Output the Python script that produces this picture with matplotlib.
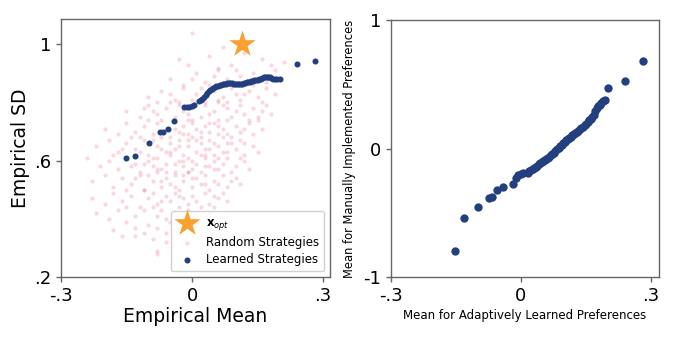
import matplotlib
matplotlib.use("Agg")
import matplotlib.pyplot as plt
import numpy as np

# ---------------- data ----------------
# Learned strategies: mean (shared x), empirical SD (left), manual-preference mean (right)
learned_mean = [
    -0.152, -0.130, -0.098, -0.074, -0.066, -0.054, -0.042,
    -0.018, -0.012, -0.006, 0.000, 0.005, 0.016, 0.020,
    0.024, 0.028, 0.031, 0.035, 0.038, 0.042, 0.045, 0.049, 0.052, 0.056,
    0.059, 0.063, 0.066, 0.070, 0.073, 0.077, 0.080, 0.084, 0.087, 0.091,
    0.094, 0.098, 0.101, 0.105, 0.108, 0.112, 0.115, 0.119, 0.122, 0.126,
    0.129, 0.133, 0.136, 0.140, 0.143, 0.147, 0.150, 0.154, 0.157, 0.161,
    0.164, 0.168, 0.171, 0.175, 0.178, 0.182, 0.186, 0.190, 0.195, 0.201,
    0.240, 0.282,
]
learned_sd = [
    0.609, 0.615, 0.661, 0.700, 0.700, 0.709, 0.736,
    0.783, 0.785, 0.786, 0.787, 0.790, 0.806, 0.809,
    0.812, 0.820, 0.826, 0.832, 0.838, 0.843, 0.847, 0.850, 0.853, 0.855,
    0.857, 0.859, 0.861, 0.863, 0.864, 0.865, 0.866, 0.866, 0.866, 0.866,
    0.865, 0.864, 0.864, 0.863, 0.863, 0.864, 0.865, 0.867, 0.868, 0.869,
    0.871, 0.872, 0.873, 0.875, 0.876, 0.878, 0.879, 0.880, 0.882, 0.884,
    0.886, 0.888, 0.889, 0.889, 0.887, 0.884, 0.882, 0.881, 0.881, 0.880,
    0.932, 0.944,
]
manual_mean = [
    -0.795, -0.538, -0.453, -0.386, -0.373, -0.324, -0.297,
    -0.274, -0.230, -0.204, -0.195, -0.188, -0.186, -0.175,
    -0.166, -0.157, -0.150, -0.140, -0.131, -0.121, -0.114, -0.104, -0.097, -0.087,
    -0.080, -0.070, -0.062, -0.052, -0.044, -0.033, -0.020, -0.006, 0.006, 0.021,
    0.031, 0.043, 0.054, 0.066, 0.075, 0.085, 0.093, 0.104, 0.112, 0.122,
    0.130, 0.140, 0.149, 0.160, 0.170, 0.182, 0.194, 0.208, 0.220, 0.234,
    0.246, 0.262, 0.290, 0.318, 0.330, 0.342, 0.358, 0.373, 0.380, 0.472,
    0.524, 0.679,
]

# x_opt
opt_mean = [0.115]
opt_sd = [1.0]

# Random strategies (approximate read of the faint cloud)
random_pts = [
    (0.00,1.04),(0.07,0.99),
    (-0.03,0.95),(0.04,0.96),(0.09,0.93),(0.16,0.95),(0.21,0.94),(0.12,0.97),(0.06,0.92),(0.18,0.93),(-0.01,0.93),
    (-0.05,0.88),(0.01,0.90),(0.05,0.89),(0.10,0.91),(0.14,0.90),(0.19,0.91),(0.03,0.87),(0.08,0.88),(0.12,0.86),
    (0.17,0.87),(-0.02,0.86),(0.06,0.91),(0.20,0.88),(0.11,0.89),(0.00,0.88),
    (-0.10,0.82),(-0.07,0.84),(-0.04,0.81),(-0.02,0.85),(0.01,0.83),(0.03,0.80),(0.05,0.84),(0.07,0.82),(0.09,0.85),
    (0.11,0.81),(0.13,0.84),(0.15,0.82),(0.17,0.85),(0.19,0.83),(-0.08,0.80),(0.00,0.81),(0.04,0.86),(0.08,0.80),
    (0.12,0.83),(0.16,0.80),(-0.05,0.83),(0.02,0.85),(0.06,0.81),(0.10,0.83),(0.14,0.86),(-0.03,0.80),
    (-0.15,0.77),(-0.12,0.75),(-0.10,0.79),(-0.08,0.76),(-0.06,0.78),(-0.04,0.75),(-0.03,0.79),(-0.01,0.76),(0.00,0.78),
    (0.02,0.75),(0.03,0.79),(0.05,0.77),(0.06,0.74),(0.08,0.78),(0.09,0.75),(0.11,0.79),(0.12,0.76),(0.14,0.78),
    (0.15,0.75),(0.17,0.79),(-0.11,0.78),(-0.07,0.74),(-0.02,0.77),(0.01,0.80),(0.04,0.76),(0.07,0.79),(0.10,0.77),
    (0.13,0.74),(0.16,0.77),(-0.05,0.80),(0.00,0.74),(0.06,0.80),(-0.09,0.77),(0.18,0.76),
    (-0.20,0.71),(-0.17,0.69),(-0.15,0.73),(-0.13,0.70),(-0.11,0.72),(-0.09,0.69),(-0.08,0.73),(-0.06,0.71),(-0.05,0.68),
    (-0.04,0.74),(-0.03,0.70),(-0.02,0.72),(-0.01,0.69),(0.00,0.73),(0.01,0.71),(0.02,0.68),(0.03,0.72),(0.04,0.70),
    (0.05,0.73),(0.06,0.69),(0.07,0.71),(0.08,0.74),(0.09,0.68),(0.10,0.72),(0.11,0.70),(0.13,0.73),(0.14,0.69),
    (0.16,0.71),(-0.12,0.68),(-0.07,0.70),(-0.01,0.74),(0.04,0.73),(0.08,0.69),(0.12,0.71),(-0.04,0.71),(0.02,0.70),
    (0.15,0.74),(-0.10,0.74),(0.06,0.72),(-0.02,0.69),
    (-0.22,0.65),(-0.19,0.67),(-0.17,0.63),(-0.15,0.66),(-0.13,0.64),(-0.11,0.67),(-0.10,0.62),(-0.08,0.65),(-0.07,0.68),
    (-0.06,0.63),(-0.05,0.66),(-0.04,0.64),(-0.03,0.67),(-0.02,0.62),(-0.01,0.65),(0.00,0.68),(0.01,0.63),(0.02,0.66),
    (0.03,0.64),(0.04,0.67),(0.05,0.62),(0.06,0.65),(0.07,0.68),(0.08,0.63),(0.09,0.66),(0.10,0.64),(0.11,0.67),
    (0.12,0.62),(0.14,0.65),(0.15,0.63),(-0.14,0.68),(-0.09,0.67),(-0.05,0.63),(-0.01,0.67),(0.03,0.62),(0.05,0.66),
    (0.08,0.66),(-0.03,0.65),(0.01,0.67),(-0.07,0.64),(0.12,0.66),(-0.12,0.63),(0.04,0.64),(-0.16,0.64),(0.07,0.63),
    (-0.24,0.61),(-0.21,0.58),(-0.19,0.60),(-0.17,0.57),(-0.15,0.61),(-0.13,0.59),(-0.12,0.56),(-0.10,0.60),(-0.09,0.58),
    (-0.08,0.61),(-0.07,0.57),(-0.06,0.59),(-0.05,0.62),(-0.04,0.56),(-0.03,0.60),(-0.02,0.58),(-0.01,0.61),(0.00,0.57),
    (0.01,0.59),(0.02,0.56),(0.03,0.61),(0.04,0.58),(0.05,0.60),(0.06,0.57),(0.07,0.59),(0.08,0.61),(0.09,0.56),
    (0.10,0.58),(0.12,0.60),(0.13,0.57),(-0.18,0.62),(-0.11,0.59),(-0.06,0.56),(-0.02,0.60),(0.02,0.62),(0.05,0.57),
    (-0.04,0.59),(-0.08,0.57),(0.00,0.60),(0.11,0.61),(-0.14,0.58),(0.03,0.58),(-0.01,0.56),(0.06,0.61),(-0.09,0.61),
    (-0.23,0.53),(-0.20,0.55),(-0.18,0.51),(-0.16,0.54),(-0.14,0.52),(-0.12,0.55),(-0.11,0.50),(-0.09,0.53),(-0.08,0.56),
    (-0.07,0.51),(-0.06,0.54),(-0.05,0.52),(-0.04,0.55),(-0.03,0.50),(-0.02,0.53),(-0.01,0.56),(0.00,0.51),(0.01,0.54),
    (0.02,0.52),(0.03,0.55),(0.04,0.50),(0.05,0.53),(0.07,0.55),(0.08,0.51),(0.10,0.54),(0.11,0.52),(-0.15,0.50),
    (-0.10,0.55),(-0.04,0.51),(0.00,0.54),(0.03,0.52),(-0.07,0.53),(0.06,0.52),(-0.13,0.54),(-0.02,0.55),(0.09,0.53),
    (-0.23,0.47),(-0.20,0.45),(-0.18,0.49),(-0.16,0.46),(-0.14,0.48),(-0.12,0.44),(-0.10,0.47),(-0.09,0.49),(-0.08,0.45),
    (-0.06,0.48),(-0.05,0.46),(-0.04,0.49),(-0.03,0.44),(-0.02,0.47),(-0.01,0.45),(0.00,0.48),(0.01,0.46),(0.03,0.49),
    (0.04,0.45),(0.06,0.47),(0.07,0.49),(0.08,0.46),(-0.11,0.50),(-0.07,0.46),(-0.03,0.48),(0.02,0.44),(-0.15,0.44),
    (0.05,0.48),
    (-0.22,0.42),(-0.19,0.40),(-0.17,0.43),(-0.15,0.39),(-0.13,0.41),(-0.11,0.43),(-0.10,0.38),(-0.08,0.41),(-0.07,0.43),
    (-0.05,0.39),(-0.04,0.42),(-0.02,0.40),(-0.01,0.43),(0.01,0.41),(0.03,0.39),(0.04,0.42),(-0.09,0.44),(-0.06,0.40),
    (0.00,0.38),(0.05,0.44),
    (-0.18,0.36),(-0.16,0.34),(-0.13,0.37),(-0.11,0.35),(-0.09,0.33),(-0.08,0.37),(-0.06,0.35),(-0.04,0.36),(-0.02,0.33),
    (0.00,0.36),(-0.13,0.34),
    (-0.08,0.29),(-0.06,0.32),(-0.08,0.28),
]
random_mean = [p[0] for p in random_pts]
random_sd = [p[1] for p in random_pts]

x_ticks = [-0.3, 0.0, 0.3]
x_ticklabels = ["-.3", "0", ".3"]
left_y_ticks = [0.2, 0.6, 1.0]
left_y_ticklabels = [".2", ".6", "1"]
right_y_ticks = [-1, 0, 1]
right_y_ticklabels = ["-1", "0", "1"]

# ---------------- style ----------------
BLUE = "#233f80"
ORANGE = "#f8a12f"
PINK = "crimson"
SPINE = "#666666"

fig = plt.figure(figsize=(6.76, 3.39), dpi=100)

def style_axes(ax):
    for s in ax.spines.values():
        s.set_color(SPINE)
        s.set_linewidth(1.0)
    ax.tick_params(colors=SPINE, labelcolor="black", length=3.5, width=1.0)

# Left panel
ax1 = fig.add_axes([0.0902, 0.1829, 0.398, 0.761])
style_axes(ax1)
h_rand = ax1.scatter(random_mean, random_sd, s=9, color=PINK, alpha=0.16,
                     linewidths=0, label="Random Strategies", zorder=1)
h_learn = ax1.scatter(learned_mean, learned_sd, s=19, color=BLUE,
                      linewidths=0, label="Learned Strategies", zorder=2)
h_opt = ax1.scatter(opt_mean, opt_sd, s=400, marker="*", color=ORANGE,
                    linewidths=0, label=r"$\mathbf{x}_{opt}$", zorder=3)
ax1.set_xlim(-0.3, 0.316)
ax1.set_ylim(0.2, 1.087)
ax1.set_xticks(x_ticks)
ax1.set_xticklabels(x_ticklabels, fontsize=13)
ax1.set_yticks(left_y_ticks)
ax1.set_yticklabels(left_y_ticklabels, fontsize=13)
ax1.set_xlabel("Empirical Mean", fontsize=13.5, labelpad=2)
ax1.set_ylabel("Empirical SD", fontsize=13.5, labelpad=3)
leg = ax1.legend(handles=[h_opt, h_rand, h_learn], loc="lower right",
                 fontsize=8.5, framealpha=0.9, borderaxespad=0.5,
                 handletextpad=0.6, labelspacing=0.35)
leg.get_frame().set_edgecolor("#cccccc")

# Right panel
ax2 = fig.add_axes([0.578, 0.182, 0.397, 0.759])
style_axes(ax2)
ax2.scatter(learned_mean, manual_mean, s=36, color=BLUE, linewidths=0)
ax2.set_xlim(-0.3, 0.319)
ax2.set_ylim(-1, 1)
ax2.set_xticks(x_ticks)
ax2.set_xticklabels(x_ticklabels, fontsize=13)
ax2.set_yticks(right_y_ticks)
ax2.set_yticklabels(right_y_ticklabels, fontsize=13)
ax2.set_xlabel("Mean for Adaptively Learned Preferences", fontsize=8.5, labelpad=3)
ax2.set_ylabel("Mean for Manually Implemented Preferences", fontsize=8.3, labelpad=5)

fig.savefig("out.png", dpi=100)
